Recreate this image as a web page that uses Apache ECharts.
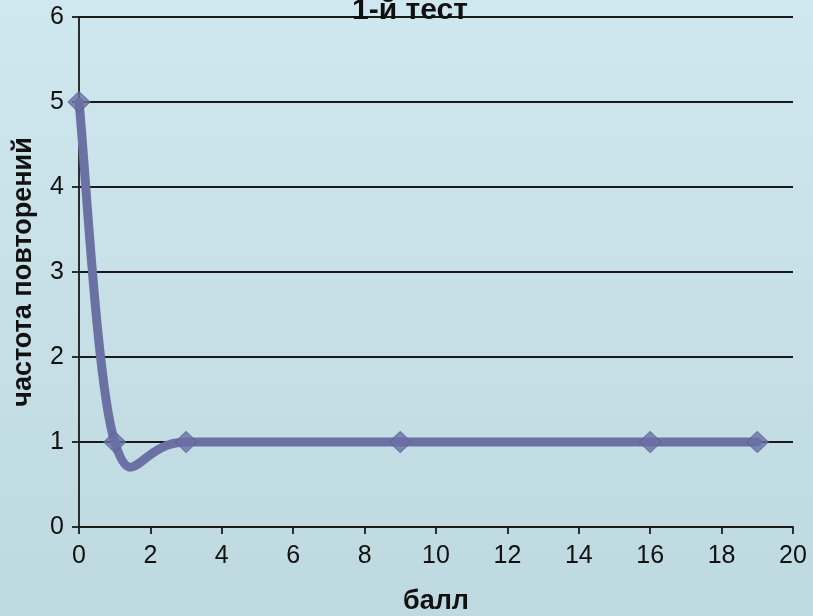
<!DOCTYPE html>
<html>
<head>
<meta charset="utf-8">
<script src="https://cdn.jsdelivr.net/npm/echarts@6/dist/echarts.min.js"></script>
<style>
  html, body { margin: 0; padding: 0; }
  #chart { width: 813px; height: 616px; }
</style>
</head>
<body>
<div id="chart"></div>
<script>
// Scores and how many times each occurred
const scores = [0, 1, 3, 9, 16, 19];
const counts = [5, 1, 1, 1, 1, 1];

const xTicks = { min: 0, max: 20, step: 2 };
const yTicks = { min: 0, max: 6, step: 1 };

const titleText = '1-й тест';
const xName = 'балл';
const yName = 'частота повторений';

const points = scores.map((s, i) => [s, counts[i]]);

const FONT = '"Liberation Sans", Arial, sans-serif';
const LINE_COLOR = '#6c71a4';

// Catmull-Rom style smoothing: one cubic segment per pair of neighbouring points
function renderSegment(params, api) {
  const i = params.dataIndex;
  if (i >= points.length - 1) return null;
  const p = points.map(d => api.coord(d));
  const p0 = p[Math.max(i - 1, 0)];
  const p1 = p[i];
  const p2 = p[i + 1];
  const p3 = p[Math.min(i + 2, p.length - 1)];
  return {
    type: 'bezierCurve',
    shape: {
      x1: p1[0], y1: p1[1],
      x2: p2[0], y2: p2[1],
      cpx1: p1[0] + (p2[0] - p0[0]) / 6,
      cpy1: p1[1] + (p2[1] - p0[1]) / 6,
      cpx2: p2[0] - (p3[0] - p1[0]) / 6,
      cpy2: p2[1] - (p3[1] - p1[1]) / 6
    },
    style: { stroke: LINE_COLOR, lineWidth: 9, fill: null, lineCap: 'round', lineJoin: 'round' }
  };
}

const chart = echarts.init(document.getElementById('chart'));
chart.setOption({
  backgroundColor: new echarts.graphic.LinearGradient(0, 0, 0, 1, [
    { offset: 0, color: '#cfe7ef' },
    { offset: 1, color: '#bfd9e0' }
  ]),
  animation: false,
  title: {
    text: titleText,
    left: 405,
    top: -9,
    textAlign: 'center',
    textStyle: { fontFamily: FONT, fontSize: 30, fontWeight: 'bold', color: '#111' }
  },
  grid: { left: 79, right: 20, top: 17, bottom: 89, containLabel: false, outerBoundsMode: 'none' },
  xAxis: {
    type: 'value',
    min: xTicks.min, max: xTicks.max, interval: xTicks.step,
    name: xName,
    nameLocation: 'middle',
    nameGap: 61,
    nameTextStyle: { fontFamily: FONT, fontSize: 27, fontWeight: 'bold', color: '#111' },
    axisLine: { show: true, lineStyle: { color: '#1a1a1a', width: 1.8 } },
    axisTick: { show: true, length: 7, lineStyle: { color: '#1a1a1a', width: 1.8 } },
    axisLabel: { fontFamily: FONT, fontSize: 25, color: '#111', margin: 17 },
    splitLine: { show: false }
  },
  yAxis: {
    type: 'value',
    min: yTicks.min, max: yTicks.max, interval: yTicks.step,
    name: yName,
    nameLocation: 'middle',
    nameRotate: 90,
    nameGap: 42,
    nameTextStyle: { fontFamily: FONT, fontSize: 27, fontWeight: 'bold', color: '#111' },
    axisLine: { show: true, lineStyle: { color: '#1a1a1a', width: 1.8 } },
    axisTick: { show: true, length: 7, lineStyle: { color: '#1a1a1a', width: 1.8 } },
    axisLabel: { fontFamily: FONT, fontSize: 25, color: '#111', margin: 15 },
    splitLine: { show: true, lineStyle: { color: '#1a1a1a', width: 1.8 } }
  },
  series: [
    {
      type: 'custom',
      data: points,
      renderItem: renderSegment,
      z: 3,
      clip: false
    },
    {
      type: 'scatter',
      data: points,
      symbol: 'diamond',
      symbolSize: [22, 21],
      itemStyle: { color: '#6a70a6', borderColor: '#5c6090', borderWidth: 1 },
      z: 4
    }
  ]
});
</script>
</body>
</html>
